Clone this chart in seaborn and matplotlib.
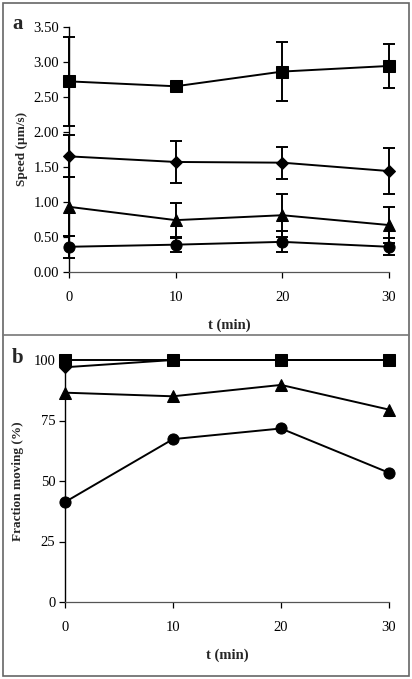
import numpy as np
import pandas as pd
import matplotlib
matplotlib.use("Agg")
import matplotlib.pyplot as plt
import seaborn as sns
from matplotlib.patches import Rectangle
from matplotlib.lines import Line2D

sns.set_theme(style="white")
plt.rcParams['font.family'] = ['Liberation Serif', 'DejaVu Serif']

# ---- data ----
t = [0, 10, 20, 30]
series = ["square", "diamond", "triangle", "circle"]

speed_square = [2.72, 2.65, 2.86, 2.94]
speed_diamond = [1.65, 1.57, 1.56, 1.44]
speed_triangle = [0.93, 0.74, 0.81, 0.67]
speed_circle = [0.36, 0.39, 0.43, 0.36]

err_square = [0.64, 0.04, 0.42, 0.32]
err_diamond = [0.30, 0.30, 0.23, 0.33]
err_triangle = [0.42, 0.24, 0.31, 0.26]
err_circle = [0.16, 0.10, 0.15, 0.12]

frac_square = [100, 100, 100, 100]
frac_diamond = [97, 100, 100, 100]
frac_triangle = [86.5, 85, 89.7, 79.5]
frac_circle = [41.3, 67.3, 71.7, 53.4]

speed_yticks = ["0.00", "0.50", "1.00", "1.50", "2.00", "2.50", "3.00", "3.50"]
frac_yticks = ["0", "25", "50", "75", "100"]

speeds = [speed_square, speed_diamond, speed_triangle, speed_circle]
errs = [err_square, err_diamond, err_triangle, err_circle]
fracs = [frac_square, frac_diamond, frac_triangle, frac_circle]

df_a = pd.DataFrame({"t": t * 4, "series": np.repeat(series, 4),
                     "v": np.concatenate(speeds)})
df_b = pd.DataFrame({"t": t * 4, "series": np.repeat(series, 4),
                     "v": np.concatenate(fracs)})

markers = {"square": "s", "diamond": "D", "triangle": "^", "circle": "o"}
msizes = {"square": 8.5, "diamond": 6.5, "triangle": 8.5, "circle": 8}

W, H = 412, 679
fig = plt.figure(figsize=(W / 100, H / 100), dpi=100)

def ax_rect(x0, x1, ytop, ybot):
    return [x0 / W, 1 - ybot / H, (x1 - x0) / W, (ybot - ytop) / H]

ax_a = fig.add_axes(ax_rect(69, 389, 26.7, 272))
ax_b = fig.add_axes(ax_rect(65, 389, 360, 602))

def draw(ax, df):
    for s in series:
        sub = df[df["series"] == s]
        sns.lineplot(data=sub, x="t", y="v", ax=ax, color="black",
                     marker=markers[s], markersize=msizes[s], linewidth=1.4,
                     markeredgecolor="black", markerfacecolor="black",
                     legend=False, clip_on=False, zorder=3)

# panel a
for s, v, e in zip(series, speeds, errs):
    ax_a.errorbar(t, v, yerr=e, fmt="none", ecolor="black", elinewidth=1.4,
                  capsize=4, capthick=1.4, clip_on=False, zorder=2)
draw(ax_a, df_a)
ax_a.set_xlim(0, 30)
ax_a.set_ylim(0, 3.5)
ax_a.set_yticks(np.arange(0, 3.51, 0.5))
ax_a.set_yticklabels(speed_yticks)
ax_a.set_ylabel("Speed (\u00b5m/s)", fontsize=9.5, fontweight="bold", labelpad=4)

# panel b
draw(ax_b, df_b)
ax_b.set_xlim(0, 30)
ax_b.set_ylim(0, 100)
ax_b.set_yticks([0, 25, 50, 75, 100])
ax_b.set_yticklabels(frac_yticks)
ax_b.set_ylabel("Fraction moving (%)", fontsize=9.5, fontweight="bold", labelpad=7)

for ax in (ax_a, ax_b):
    ax.set_xticks(t)
    ax.set_xticklabels([str(x) for x in t])
    ax.set_xlabel("t (min)", fontsize=10.5, fontweight="bold", labelpad=10)
    ax.tick_params(axis="both", labelsize=10.5, colors="black", length=4,
                   width=0.9, direction="out", pad=3, left=True, bottom=True)
    ax.tick_params(axis="x", pad=10)
    for sp in ("top", "right"):
        ax.spines[sp].set_visible(False)
    ax.spines["left"].set_color("black")
    ax.spines["bottom"].set_color("#555555")
    ax.spines["left"].set_linewidth(1.0)
    ax.spines["bottom"].set_linewidth(0.9)
    ax.set_facecolor("none")
    ax.grid(False)

fig.text(12 / W, 1 - 24 / H, "a", fontsize=15, fontweight="bold", va="center", ha="left")
fig.text(12 / W, 1 - 358 / H, "b", fontsize=15, fontweight="bold", va="center", ha="left")

fig.patches.append(Rectangle((3 / W, 1 - 676 / H), 406 / W, 673 / H,
                             transform=fig.transFigure, fill=False,
                             edgecolor="#666666", linewidth=1.2))
fig.lines.append(Line2D([3 / W, 409 / W], [1 - 335 / H, 1 - 335 / H],
                        transform=fig.transFigure, color="#777777", linewidth=1.2))

fig.savefig("out.png", dpi=100)
